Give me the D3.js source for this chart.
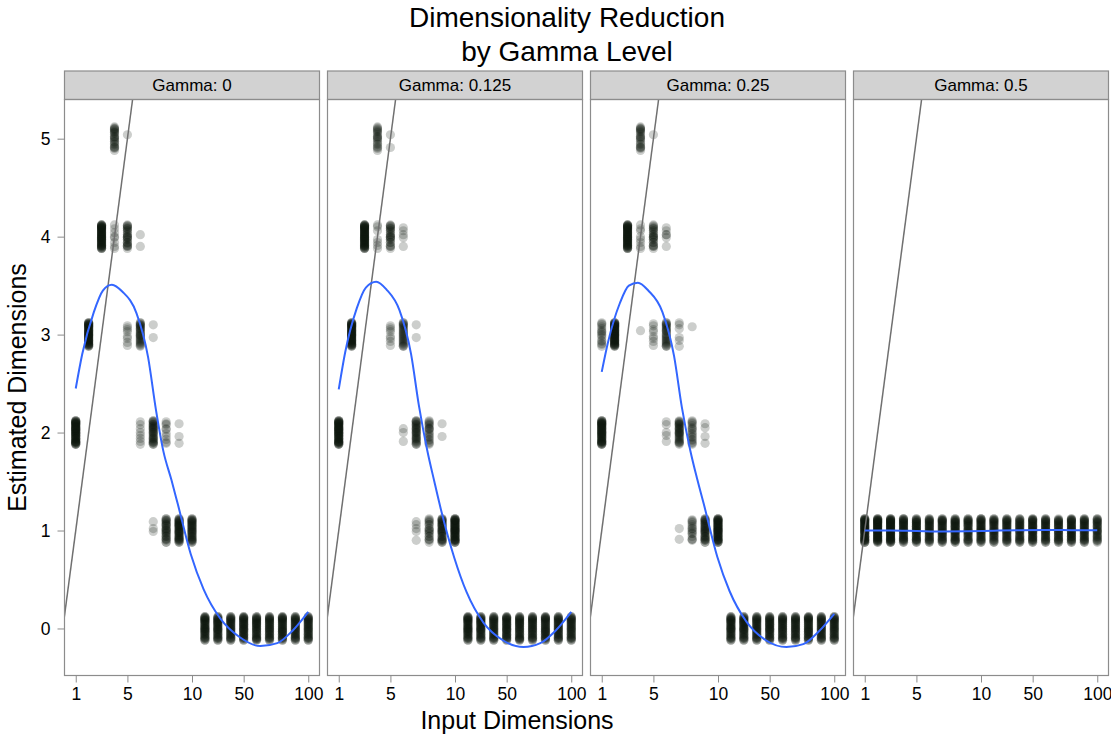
<!DOCTYPE html>
<meta charset="utf-8">
<style>
    body { margin: 0; background: #fff; }
    svg { font-family: "Liberation Sans", Arial, sans-serif; }
    .frame { fill: none; stroke: #8c8c8c; stroke-width: 1.2; }
    .strip rect { fill: #d2d2d2; stroke: #8c8c8c; stroke-width: 1.2; }
    .strip text { font-size: 17px; fill: #000; }
    .axis path { display: none; }
    .axis line { stroke: #8c8c8c; }
    .axis text { font-size: 17.5px; fill: #000; }
    .dot { fill: rgb(12, 22, 12); fill-opacity: 0.21; }
    .diag { stroke: #707070; stroke-width: 1.5; fill: none; }
    .smooth { stroke: #3366ff; stroke-width: 2; fill: none; }
    .title { font-size: 28px; fill: #000; }
    .label { font-size: 25px; fill: #000; }
</style>
<svg width="1111" height="740"></svg>
<script src="https://cdn.jsdelivr.net/npm/d3@7"></script>
<script>
    // x categories (plotted as evenly spaced positions)
    var INPUT_DIMS = [1, 2, 3, 4, 5, 6, 7, 8, 9, 10, 20, 30, 40, 50, 60, 70, 80, 90, 100];
    var X_TICKS = [1, 5, 10, 50, 100];
    var Y_TICKS = [0, 1, 2, 3, 4, 5];
    var GAMMAS = ["0", "0.125", "0.25", "0.5"];

    // per input dimension: [estimated dimension, number of runs]
    var COUNTS_G0 = [
        [[2, 60]], [[3, 60]], [[4, 60]],
        [[5, 24], [4, 8]],
        [[5, 1], [4, 26], [3, 8]],
        [[4, 2], [3, 30], [2, 8]],
        [[3, 2], [2, 34], [1, 3]],
        [[2, 10], [1, 30]],
        [[2, 3], [1, 44]],
        [[1, 40]],
        [[0, 44]], [[0, 42]], [[0, 40]], [[0, 44]], [[0, 42]], [[0, 40]], [[0, 42]], [[0, 40]], [[0, 40]]
    ];
    var COUNTS_G125 = [
        [[2, 60]], [[3, 60]], [[4, 60]],
        [[5, 20], [4, 7]],
        [[5, 2], [4, 24], [3, 8]],
        [[4, 5], [3, 28], [2, 3]],
        [[3, 2], [2, 32], [1, 5]],
        [[2, 20], [1, 20]],
        [[2, 2], [1, 36]],
        [[1, 56]],
        [[0, 44]], [[0, 42]], [[0, 40]], [[0, 44]], [[0, 42]], [[0, 40]], [[0, 42]], [[0, 40]], [[0, 40]]
    ];
    var COUNTS_G25 = [
        [[3, 16], [2, 56]], [[3, 60]], [[4, 60]],
        [[5, 22], [4, 8], [3, 1]],
        [[5, 1], [4, 24], [3, 8]],
        [[4, 6], [3, 28], [2, 5]],
        [[3, 6], [2, 32], [1, 2]],
        [[3, 1], [2, 18], [1, 16]],
        [[2, 4], [1, 36]],
        [[1, 56]],
        [[0, 42]], [[0, 42]], [[0, 40]], [[0, 42]], [[0, 40]], [[0, 40]], [[0, 42]], [[0, 40]], [[0, 40]]
    ];
    var COUNTS_G5 = [
        [[1, 56]], [[1, 60]], [[1, 60]], [[1, 44]], [[1, 44]], [[1, 40]], [[1, 42]], [[1, 44]], [[1, 38]], [[1, 42]],
        [[1, 38]], [[1, 40]], [[1, 38]], [[1, 44]], [[1, 40]], [[1, 38]], [[1, 44]], [[1, 40]], [[1, 34]]
    ];

    // vertical jitter of the runs around the integer estimate
    var JITTER = [0.02, -0.09, 0.10, -0.03, 0.06, -0.12, 0.12, -0.06, 0.00, 0.08,
        -0.10, 0.04, -0.01, 0.11, -0.07, 0.03, -0.04, 0.09, -0.11, 0.05,
        -0.02, 0.07, -0.08, 0.01, 0.12, -0.05, 0.10, -0.12, 0.04, -0.09,
        0.00, 0.08, -0.03, 0.11, -0.06, 0.02, -0.10, 0.06, -0.01, 0.09];

    // loess smooth: [position, estimate]
    var SMOOTH_G0 = [[1, 2.45], [1.5, 2.8], [2.4, 3.23], [3.1, 3.45], [3.8, 3.51], [4.6, 3.44], [5.7, 3.22],
        [6.6, 2.77], [7.2, 2.24], [7.8, 1.8], [8.4, 1.52], [8.9, 1.27], [9.9, 0.76], [10.9, 0.4],
        [12.2, 0.1], [13.7, -0.09], [15.3, -0.18], [16.6, -0.15], [17.8, -0.02], [19, 0.17]];
    var SMOOTH_G125 = [[1, 2.44], [1.5, 2.82], [2.4, 3.27], [3.1, 3.48], [3.9, 3.54], [4.7, 3.46], [5.7, 3.25],
        [6.6, 2.8], [7.2, 2.28], [7.85, 1.82], [8.4, 1.5], [8.9, 1.22], [9.95, 0.72], [10.9, 0.37],
        [12.2, 0.06], [13.7, -0.12], [15.3, -0.19], [16.6, -0.15], [17.8, -0.02], [19, 0.17]];
    var SMOOTH_G25 = [[1, 2.62], [1.5, 2.93], [2.4, 3.32], [3.1, 3.5], [3.8, 3.53], [4.6, 3.45], [5.7, 3.23],
        [6.6, 2.78], [7.2, 2.26], [7.85, 1.82], [8.4, 1.52], [8.9, 1.27], [9.95, 0.73], [10.9, 0.38],
        [12.2, 0.07], [13.7, -0.12], [15.3, -0.19], [16.6, -0.16], [17.8, -0.03], [19, 0.15]];
    var SMOOTH_G5 = [[1, 1.0], [3, 1.0], [5, 0.995], [7, 0.99], [9, 0.992], [11, 0.998], [13, 1.003], [15, 1.005], [17, 1.004], [19, 1.003]];

    var COUNTS = [COUNTS_G0, COUNTS_G125, COUNTS_G25, COUNTS_G5];
    var SMOOTHS = [SMOOTH_G0, SMOOTH_G125, SMOOTH_G25, SMOOTH_G5];

    var svg = d3.select("svg"),
        panelLeft = 64.5,
        panelW = 255,
        panelGap = 8,
        stripTop = 71,
        plotTop = 99.5,
        plotBottom = 675.5;

    var x = d3.scalePoint().domain(INPUT_DIMS).range([0, panelW]).padding(0.87);
    // same thing on the running index, for the lines
    var xi = d3.scaleLinear().domain([1, INPUT_DIMS.length]).range([x(INPUT_DIMS[0]), x(INPUT_DIMS[INPUT_DIMS.length - 1])]);
    var y = d3.scaleLinear().domain([-0.48, 5.4]).range([plotBottom, plotTop]);

    var line = d3.line()
        .x(function (d) { return xi(d[0]); })
        .y(function (d) { return y(d[1]); })
        .curve(d3.curveMonotoneX);

    // titles
    svg.append("text").attr("class", "title").attr("x", 567).attr("y", 27)
        .attr("text-anchor", "middle").text("Dimensionality Reduction");
    svg.append("text").attr("class", "title").attr("x", 567).attr("y", 61)
        .attr("text-anchor", "middle").text("by Gamma Level");
    svg.append("text").attr("class", "label").attr("x", 517).attr("y", 729)
        .attr("text-anchor", "middle").text("Input Dimensions");
    svg.append("text").attr("class", "label")
        .attr("transform", "translate(26," + (plotTop + plotBottom) / 2 + ") rotate(-90)")
        .attr("text-anchor", "middle").text("Estimated Dimensions");

    svg.append("defs").append("clipPath")
        .attr("id", "clip")
        .append("rect")
        .attr("width", panelW)
        .attr("height", plotBottom - plotTop)
        .attr("y", plotTop);

    GAMMAS.forEach(function (g, p) {
        var panel = svg.append("g")
            .attr("transform", "translate(" + (panelLeft + p * (panelW + panelGap)) + ",0)");

        // strip
        var strip = panel.append("g").attr("class", "strip");
        strip.append("rect").attr("y", stripTop).attr("width", panelW).attr("height", plotTop - stripTop);
        strip.append("text").attr("x", panelW / 2).attr("y", (stripTop + plotTop) / 2)
            .attr("dy", "0.36em").attr("text-anchor", "middle").text("Gamma: " + g);

        var plot = panel.append("g").attr("clip-path", "url(#clip)");

        // points
        var dots = [];
        COUNTS[p].forEach(function (col, c) {
            var k = c * 7;
            col.forEach(function (grp) {
                for (var i = 0; i < grp[1]; i++) {
                    dots.push({ dim: INPUT_DIMS[c], est: grp[0] + JITTER[(k + i) % JITTER.length] });
                }
                k += grp[1];
            });
        });
        plot.selectAll(".dot")
            .data(dots)
            .enter().append("circle")
            .attr("class", "dot")
            .attr("cx", function (d) { return x(d.dim); })
            .attr("cy", function (d) { return y(d.est); })
            .attr("r", 4.6);

        // identity line
        plot.append("path")
            .datum(y.domain().map(function (v) { return [v, v]; }))
            .attr("class", "diag")
            .attr("d", d3.line().x(function (d) { return xi(d[0]); }).y(function (d) { return y(d[1]); }));

        plot.append("path")
            .datum(SMOOTHS[p])
            .attr("class", "smooth")
            .attr("d", line);

        panel.append("rect").attr("class", "frame")
            .attr("y", plotTop).attr("width", panelW).attr("height", plotBottom - plotTop);

        panel.append("g")
            .attr("class", "axis axis--x")
            .attr("transform", "translate(0," + plotBottom + ")")
            .call(d3.axisBottom(x).tickValues(X_TICKS).tickSize(7).tickPadding(5));

        if (p === 0) {
            panel.append("g")
                .attr("class", "axis axis--y")
                .call(d3.axisLeft(y).tickValues(Y_TICKS).tickFormat(d3.format("d")).tickSize(7).tickPadding(7));
        }
    });
</script>
